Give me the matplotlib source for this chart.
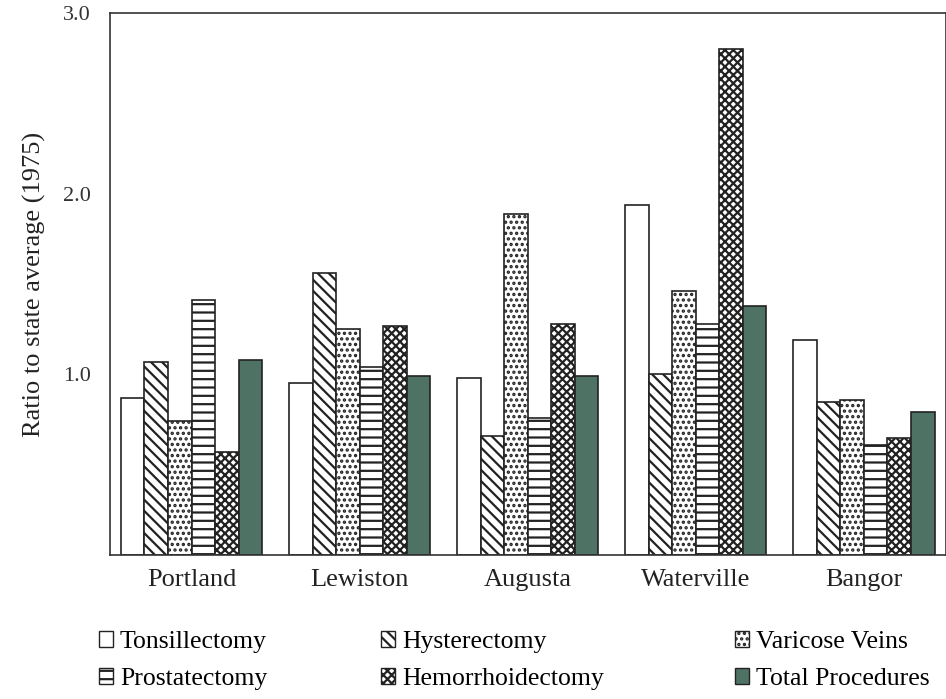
import numpy as np
import matplotlib.pyplot as plt
from matplotlib.patches import Patch

plt.rcParams['font.family'] = ['Liberation Serif', 'DejaVu Serif']
plt.rcParams['hatch.linewidth'] = 1.6

cities = ["Portland", "Lewiston", "Augusta", "Waterville", "Bangor"]
procedures = ["Tonsillectomy", "Hysterectomy", "Varicose Veins",
              "Prostatectomy", "Hemorrhoidectomy", "Total Procedures"]

tonsillectomy = [0.87, 0.95, 0.98, 1.94, 1.19]
hysterectomy = [1.07, 1.56, 0.66, 1.00, 0.85]
varicose = [0.74, 1.25, 1.89, 1.46, 0.86]
prostatectomy = [1.41, 1.04, 0.76, 1.28, 0.61]
hemorrhoidectomy = [0.57, 1.27, 1.28, 2.80, 0.65]
total = [1.08, 0.99, 0.99, 1.38, 0.79]

values = [tonsillectomy, hysterectomy, varicose, prostatectomy, hemorrhoidectomy, total]
hatches = ["", "\\\\\\", "...", "--", "xxxx", ""]
colors = ["white", "white", "white", "white", "white", "#4e7365"]

fig = plt.figure(figsize=(9.46, 6.99), dpi=100)
ax = fig.add_axes([0.1163, 0.206, 0.884, 0.775])

x = np.arange(len(cities))
w = 0.14
for i, vals in enumerate(values):
    ax.bar(x + (i - 2.5) * w, vals, width=w, color=colors[i], hatch=hatches[i],
           edgecolor="#222222", linewidth=1.2)

ax.set_xlim(-0.485, 4.49)
ax.set_ylim(0, 3.0)
ax.set_yticks([1.0, 2.0, 3.0])
ax.set_yticklabels(["1.0", "2.0", "3.0"], fontsize=16, color="#333333")
ax.set_xticks(x)
ax.set_xticklabels(cities, fontsize=19, color="#222222")
ax.tick_params(length=0, pad=10)
ax.tick_params(axis="y", pad=14)
ax.set_ylabel("Ratio to state average (1975)", fontsize=19, color="#222222", labelpad=12)
for s in ax.spines.values():
    s.set_linewidth(1.2)
    s.set_color("#333333")

handles = [Patch(facecolor=colors[i], hatch=hatches[i], edgecolor="#222222", linewidth=1.0)
           for i in range(6)]
xs = [0.105, 0.403, 0.777]
for col in range(3):
    fig.legend([handles[col], handles[col + 3]], [procedures[col], procedures[col + 3]],
               loc="upper left", bbox_to_anchor=(xs[col], 0.097), frameon=False,
               fontsize=18.5, handlelength=0.55, handleheight=0.55, handletextpad=0.25,
               labelspacing=0.58, borderaxespad=0, borderpad=0)

fig.savefig("out.png", dpi=100)
